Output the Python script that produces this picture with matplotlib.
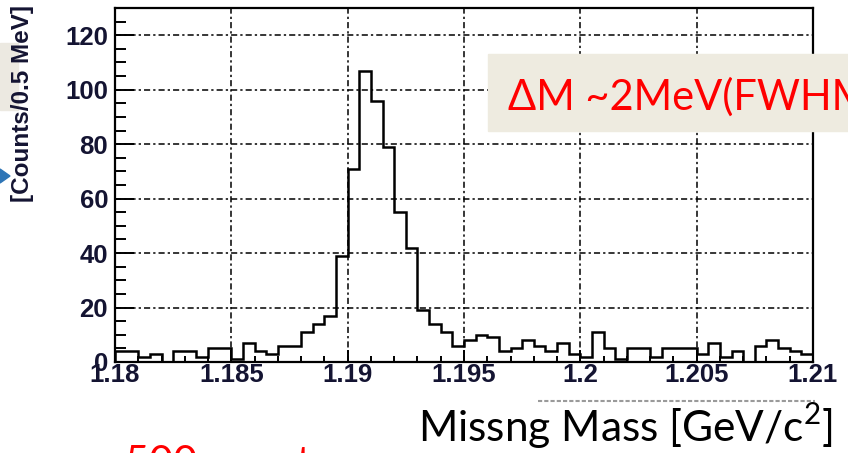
import numpy as np
import matplotlib.pyplot as plt
from matplotlib.patches import Rectangle, Polygon
from matplotlib.ticker import MultipleLocator

plt.rcParams['mathtext.fontset'] = 'custom'
plt.rcParams['mathtext.rm'] = 'Lato'

# histogram contents, 0.5 MeV bins from 1.18 to 1.21 GeV
counts = [4, 4, 2, 3, 0, 4, 4, 2, 5, 5,
          1, 7, 4, 3, 6, 6, 11, 14, 17, 39,
          71, 107, 96, 79, 55, 42, 19, 14, 11, 6,
          8, 10, 9, 4, 5, 8, 6, 4, 7, 3,
          2, 11, 5, 1, 5, 5, 2, 5, 5, 5,
          3, 7, 2, 4, 0, 6, 8, 5, 4, 3]
mass_lo = 1.18
mass_hi = 1.21
bin_width = 0.0005

x_ticks = [1.18, 1.185, 1.19, 1.195, 1.2, 1.205, 1.21]
x_tick_labels = ['1.18', '1.185', '1.19', '1.195', '1.2', '1.205', '1.21']
y_ticks = [0, 20, 40, 60, 80, 100, 120]
y_tick_labels = ['0', '20', '40', '60', '80', '100', '120']

fig = plt.figure(figsize=(8.48, 4.53), dpi=100)
ax = fig.add_axes([0.1356, 0.2009, 0.8231, 0.7814])

edges = mass_lo + bin_width * np.arange(len(counts) + 1)
ax.stairs(counts, edges, color='black', lw=1.8, zorder=3)

ax.set_xlim(mass_lo, mass_hi)
ax.set_ylim(0, 130)
ax.set_xticks(x_ticks)
ax.set_xticklabels(x_tick_labels)
ax.set_yticks(y_ticks)
ax.set_yticklabels(y_tick_labels)
ax.xaxis.set_minor_locator(MultipleLocator(0.001))
ax.yaxis.set_minor_locator(MultipleLocator(5))

ax.grid(True, which='major', color='black', lw=1.1, linestyle=(0, (4, 2, 1.5, 2)))
ax.tick_params(axis='both', which='both', direction='in', top=False, right=False,
               width=1.4, color='black')
ax.tick_params(axis='x', which='major', length=9, pad=1)
ax.tick_params(axis='x', which='minor', length=4.5)
ax.tick_params(axis='y', which='major', length=14, pad=5)
ax.tick_params(axis='y', which='minor', length=8)
for lab in ax.get_xticklabels() + ax.get_yticklabels():
    lab.set_fontfamily('Liberation Sans')
    lab.set_fontweight('bold')
    lab.set_fontsize(18.5)
    lab.set_color('#141432')
for sp in ax.spines.values():
    sp.set_linewidth(1.6)

fig.text(0.026, 0.99, '[Counts/0.5 MeV]', rotation=90, ha='center', va='top',
         fontsize=17.5, fontweight='bold', family='Liberation Sans', color='#141432')

# slide decorations around the plot
fig.patches.append(Rectangle((0, 1 - 110 / 453), 18 / 848, 67 / 453,
                             transform=fig.transFigure, color='#ECE9E1', zorder=0))
fig.patches.append(Polygon([[0, 1 - 169 / 453], [10 / 848, 1 - 176 / 453], [0, 1 - 183 / 453]],
                           closed=True, transform=fig.transFigure, color='#2E75B6'))
box = Rectangle((488 / 848, 1 - 131 / 453), 360 / 848, 77 / 453,
                transform=fig.transFigure, color='#EEEBE0', zorder=5)
fig.add_artist(box)
fig.text(508 / 848, 1 - 110 / 453, '\u0394M ~2MeV(FWHM)', color='#FF0000',
         fontsize=30, family='Lato', ha='left', va='baseline', zorder=6)

fig.add_artist(plt.Line2D([538 / 848, 815 / 848], [1 - 401 / 453, 1 - 401 / 453],
                          transform=fig.transFigure, color='#9a9a9a', lw=1.5,
                          linestyle=(0, (2, 1))))
fig.text(833 / 848, 1 - 442 / 453, 'Missng Mass [GeV/c$^{2}$]', color='black',
         fontsize=30.5, family='Lato', ha='right', va='baseline')
fig.text(125 / 848, 1 - 476 / 453, '500 events', color='#FF0000',
         fontsize=30, family='Lato', ha='left', va='baseline')

fig.savefig('out.png', dpi=100)
